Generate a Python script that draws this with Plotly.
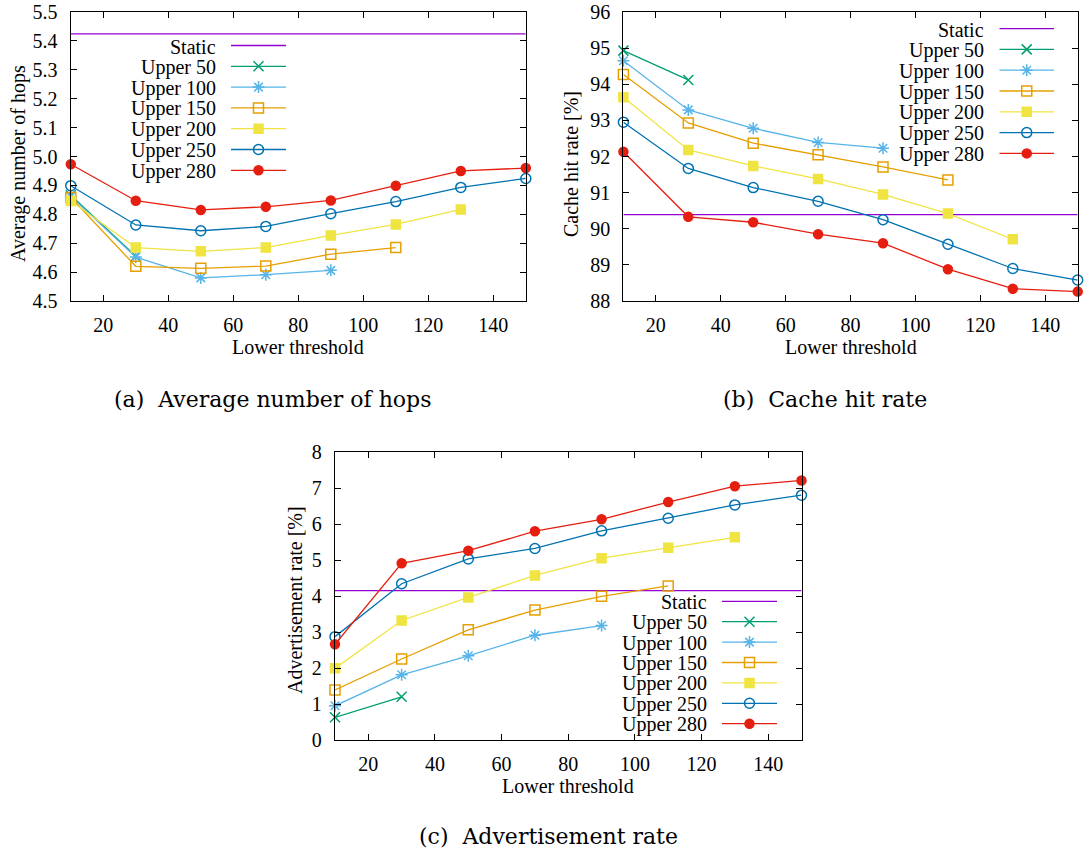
import plotly.graph_objects as go

# ---------------- data ----------------
LOWER = [10, 30, 50, 70, 90, 110, 130, 150]
X_TICKS = [20, 40, 60, 80, 100, 120, 140]
SERIES_NAMES = ["Upper 50", "Upper 100", "Upper 150", "Upper 200", "Upper 250", "Upper 280"]

HOPS_STATIC = 5.424
HOPS_U50 = [4.866, 4.655]
HOPS_U100 = [4.862, 4.652, 4.580, 4.591, 4.606]
HOPS_U150 = [4.858, 4.620, 4.613, 4.621, 4.662, 4.685]
HOPS_U200 = [4.846, 4.685, 4.672, 4.685, 4.727, 4.765, 4.817]
HOPS_U250 = [4.899, 4.763, 4.743, 4.758, 4.802, 4.844, 4.893, 4.924]
HOPS_U280 = [4.973, 4.847, 4.815, 4.826, 4.848, 4.899, 4.950, 4.960]
HOPS_TICKS = [4.5, 4.6, 4.7, 4.8, 4.9, 5.0, 5.1, 5.2, 5.3, 5.4, 5.5]

CACHE_STATIC = 90.39
CACHE_U50 = [94.93, 94.12]
CACHE_U100 = [94.65, 93.29, 92.78, 92.39, 92.23]
CACHE_U150 = [94.27, 92.93, 92.37, 92.05, 91.71, 91.35]
CACHE_U200 = [93.64, 92.18, 91.74, 91.38, 90.95, 90.42, 89.71]
CACHE_U250 = [92.95, 91.67, 91.14, 90.76, 90.25, 89.57, 88.90, 88.58]
CACHE_U280 = [92.13, 90.33, 90.18, 89.85, 89.60, 88.88, 88.34, 88.26]
CACHE_TICKS = [88, 89, 90, 91, 92, 93, 94, 95, 96]

ADV_STATIC = 4.15
ADV_U50 = [0.63, 1.20]
ADV_U100 = [0.95, 1.81, 2.34, 2.91, 3.18]
ADV_U150 = [1.39, 2.25, 3.06, 3.61, 3.99, 4.28]
ADV_U200 = [1.99, 3.32, 3.96, 4.57, 5.05, 5.34, 5.63]
ADV_U250 = [2.87, 4.34, 5.03, 5.32, 5.81, 6.16, 6.53, 6.80]
ADV_U280 = [2.66, 4.91, 5.26, 5.80, 6.13, 6.61, 7.05, 7.21]
ADV_TICKS = [0, 1, 2, 3, 4, 5, 6, 7, 8]

# ---------------- styles / layout ----------------
W, H = 1084, 853
TXT = "Liberation Serif"
CAP = "DejaVu Serif"
FS = 20
STATIC_COLOR = "#9400d3"
STYLES = [
    dict(color="#009e73", symbol="x-thin-open", size=10),
    dict(color="#56b4e9", symbol="asterisk-open", size=10),
    dict(color="#e69f00", symbol="square-open", size=10),
    dict(color="#f0e442", symbol="square", size=9),
    dict(color="#0072b2", symbol="circle-open", size=10),
    dict(color="#e51e10", symbol="circle", size=9),
]

# plot areas in page pixels
PANELS = {
    "a": dict(x0=70.8, x1=525.8, y0=12, y1=301, xa="x", ya="y"),
    "b": dict(x0=623.4, x1=1077.7, y0=12, y1=301, xa="x2", ya="y2"),
    "c": dict(x0=335.0, x1=801.5, y0=452, y1=740, xa="x3", ya="y3"),
}
LEGENDS = {
    "a": dict(tr=218, l0=231, l1=286, row0=45.5, dy=20.8),
    "b": dict(tr=986, l0=999.5, l1=1054, row0=28.6, dy=20.8),
    "c": dict(tr=709, l0=722, l1=777, row0=601.3, dy=20.4),
}
YTITLES = {
    "a": ("Average number of hops", 18, 164),
    "b": ("Cache hit rate [%]", 571, 164),
    "c": ("Advertisement rate [%]", 295, 600),
}
XTITLE_Y = {"a": 347, "b": 347, "c": 786}
CAPTIONS = {
    "a": ("(a)  Average number of hops", 272, 399),
    "b": ("(b)  Cache hit rate", 825, 399),
    "c": ("(c)  Advertisement rate", 548, 836),
}

DATASETS = {
    "a": (HOPS_STATIC, [HOPS_U50, HOPS_U100, HOPS_U150, HOPS_U200, HOPS_U250, HOPS_U280],
          HOPS_TICKS, ".1f"),
    "b": (CACHE_STATIC, [CACHE_U50, CACHE_U100, CACHE_U150, CACHE_U200, CACHE_U250, CACHE_U280],
          CACHE_TICKS, "d"),
    "c": (ADV_STATIC, [ADV_U50, ADV_U100, ADV_U150, ADV_U200, ADV_U250, ADV_U280],
          ADV_TICKS, "d"),
}

fig = go.Figure()
annotations = []

for key, p in PANELS.items():
    static, series, yticks, fmt = DATASETS[key]
    fig.add_trace(go.Scatter(
        x=[LOWER[0], LOWER[-1]], y=[static, static], mode="lines",
        line=dict(color=STATIC_COLOR, width=1.3), xaxis=p["xa"], yaxis=p["ya"],
        showlegend=False, hoverinfo="skip"))
    for vals, st in zip(series, STYLES):
        fig.add_trace(go.Scatter(
            x=LOWER[:len(vals)], y=vals, mode="lines+markers",
            line=dict(color=st["color"], width=1.3),
            marker=dict(symbol=st["symbol"], size=st["size"], color=st["color"],
                        line=dict(color=st["color"], width=1.5)),
            xaxis=p["xa"], yaxis=p["ya"], showlegend=False, cliponaxis=False))

    xn = "xaxis" + p["xa"][1:]
    yn = "yaxis" + p["ya"][1:]
    common = dict(showline=True, linecolor="black", linewidth=1.2, mirror="ticks",
                  ticks="inside", ticklen=6, tickwidth=1, tickcolor="black",
                  showgrid=False, zeroline=False, automargin=False,
                  ticklabeloverflow="allow",
                  tickfont=dict(family=TXT, size=FS, color="black"))
    fig.update_layout({
        xn: dict(domain=[p["x0"] / W, p["x1"] / W], range=[LOWER[0], LOWER[-1]],
                 tickvals=X_TICKS, anchor=p["ya"], ticklabelstandoff=6, **common),
        yn: dict(domain=[1 - p["y1"] / H, 1 - p["y0"] / H],
                 range=[yticks[0], yticks[-1]], tickvals=yticks, tickformat=fmt,
                 anchor=p["xa"], ticklabelstandoff=8, **common),
    })

    lg = LEGENDS[key]
    names = ["Static"] + SERIES_NAMES
    for i, name in enumerate(names):
        yy = lg["row0"] + i * lg["dy"]
        color = STATIC_COLOR if i == 0 else STYLES[i - 1]["color"]
        fig.add_trace(go.Scatter(x=[lg["l0"], lg["l1"]], y=[yy, yy],
                                 mode="lines", line=dict(color=color, width=1.3),
                                 xaxis="x4", yaxis="y4", showlegend=False, hoverinfo="skip"))
        if i > 0:
            st = STYLES[i - 1]
            fig.add_trace(go.Scatter(
                x=[(lg["l0"] + lg["l1"]) / 2], y=[yy], mode="markers",
                marker=dict(symbol=st["symbol"], size=st["size"], color=st["color"],
                            line=dict(color=st["color"], width=1.5)),
                xaxis="x4", yaxis="y4", showlegend=False, hoverinfo="skip"))
        annotations.append(dict(x=lg["tr"], y=yy + 1, xref="x4", yref="y4", text=name,
                                showarrow=False, xanchor="right", yanchor="middle",
                                font=dict(family=TXT, size=FS, color="black")))

    t, tx, ty = YTITLES[key]
    annotations.append(dict(x=tx, y=ty, xref="x4", yref="y4", text=t,
                            showarrow=False, textangle=-90, xanchor="center",
                            yanchor="middle", font=dict(family=TXT, size=FS, color="black")))
    annotations.append(dict(x=(p["x0"] + p["x1"]) / 2, y=XTITLE_Y[key], xref="x4",
                            yref="y4", text="Lower threshold", showarrow=False,
                            xanchor="center", yanchor="middle",
                            font=dict(family=TXT, size=FS, color="black")))
    c, cx, cy = CAPTIONS[key]
    annotations.append(dict(x=cx, y=cy, xref="x4", yref="y4", text=c,
                            showarrow=False, xanchor="center", yanchor="middle",
                            font=dict(family=CAP, size=22, color="black")))

fig.update_layout(
    width=W, height=H, margin=dict(l=0, r=0, t=0, b=0, pad=0, autoexpand=False),
    paper_bgcolor="white", plot_bgcolor="rgba(0,0,0,0)",
    showlegend=False, hovermode=False,
    xaxis4=dict(domain=[0, 1], range=[0, W], visible=False, anchor="y4",
                fixedrange=True, automargin=False),
    yaxis4=dict(domain=[0, 1], range=[H, 0], visible=False, anchor="x4",
                fixedrange=True, automargin=False),
    annotations=annotations,
)

fig.write_html("out.html",
               config={"displayModeBar": False, "staticPlot": True},
               post_script="document.body.style.margin='0';"
                           "document.body.style.overflow='hidden';")
